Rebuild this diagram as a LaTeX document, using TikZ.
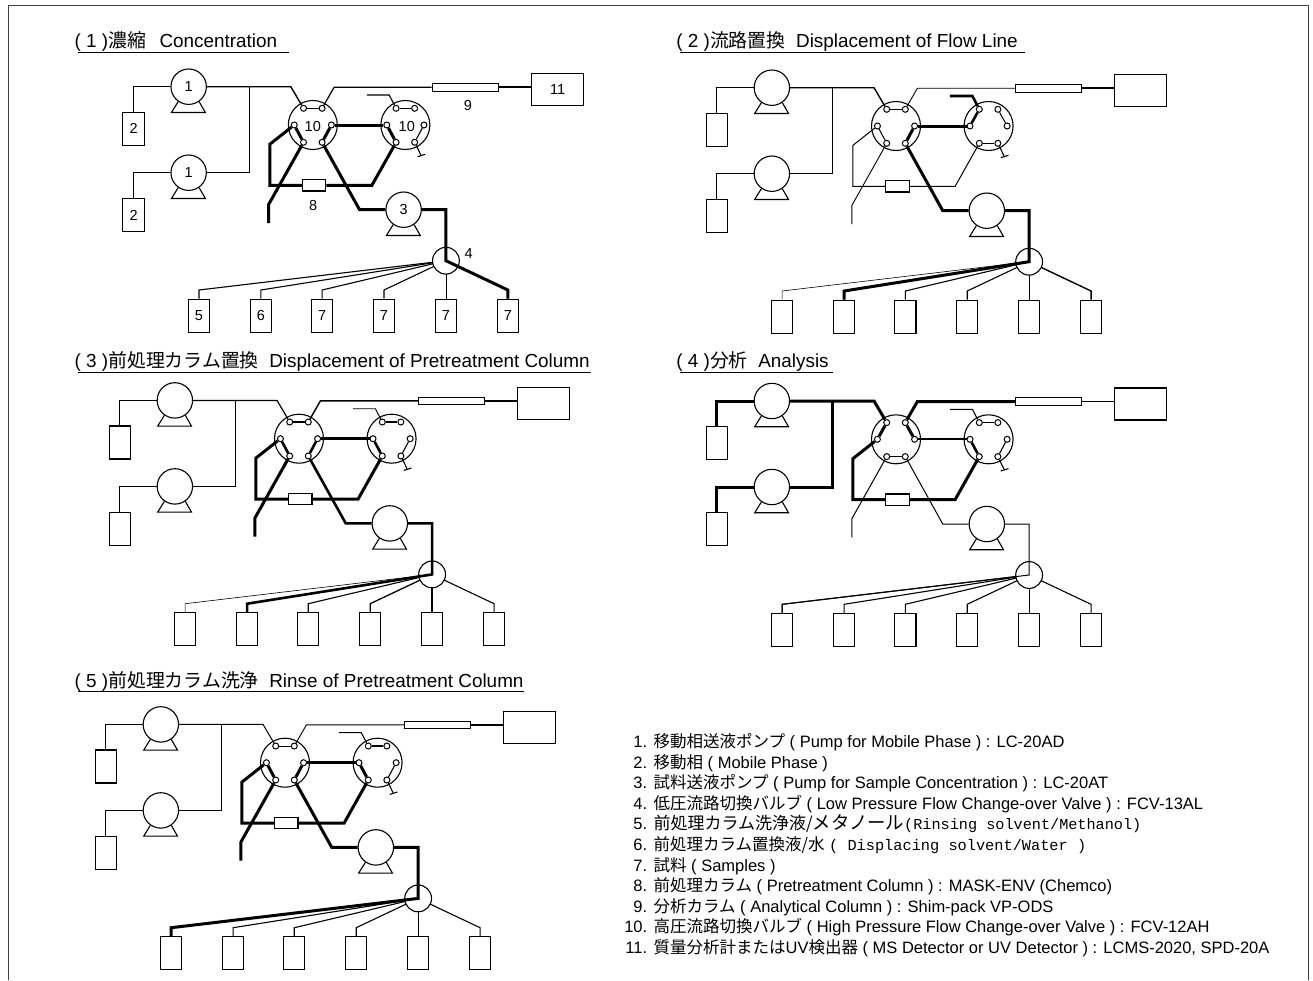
\documentclass[tikz,border=0pt]{standalone}
\usepackage{fontspec}
\setmainfont{Liberation Sans}
\newfontfamily\cjk{Noto Sans CJK JP}
\newfontfamily\cjkmono{Liberation Mono}
\tikzset{
  pump/.style={draw,circle,fill=white,line width=1.1pt,minimum size=35.4pt,inner sep=0pt},
  vlv/.style={draw,circle,line width=1.1pt,minimum size=49pt,inner sep=0pt},
  lowvlv/.style={draw,circle,line width=1.1pt,minimum size=26.8pt,inner sep=0pt},
  port/.style={draw,circle,fill=white,line width=1pt,minimum size=6pt,inner sep=0pt},
  bottle/.style={draw,fill=white,line width=1.1pt,minimum width=21.3pt,minimum height=33pt,inner sep=0pt},
  column/.style={draw,fill=white,line width=1.1pt,inner sep=0pt},
  num/.style={font=\fontsize{14.5}{16}\selectfont,inner sep=0pt},
  pumppath/.style={line width=1.4pt},
  outpath/.style={line width=1.2pt},
  detpath/.style={line width=2.2pt},
  wastepath/.style={line width=1.1pt},
  linkpath/.style={line width=3pt},
  colpath/.style={line width=3pt},
  drainpath/.style={line width=3pt},
  samplepath/.style={line width=3pt},
}
\newcommand{\flowunit}[7]{%
  \begin{scope}[shift={(#2)},x=1.032pt,#3]
    \node[vlv] (#1a) at (0,0) {};
    \node[vlv] (#1b) at (89.7,0) {};
    \foreach \p/\px/\py in {NW/-9/-16.7,NE/9/-16.7,W/-18/0,E/18/0,SW/-9/17.3,SE/9/17.3} {
      \node[port] (#1a\p) at (\px,\py) {};
      \node[port] (#1b\p) at (89.7+\px,\py) {};
    }
    \node[pump] (#1pumpa) at (-120.3,-38.3) {};
    \node[pump] (#1pumpb) at (-120.3,47.7) {};
    \node[pump] (#1pumpc) at (88,84.7) {};
    \foreach \q in {a,b,c} {
      \draw[line width=1.1pt] (#1pump\q.-125) -- ++(-6.5,10.8) -- ++(32.8,0) -- (#1pump\q.-55);
    }
    \node[bottle] (#1boxa) at (-173.7,3.8) {};
    \node[bottle] (#1boxb) at (-173.7,90) {};
    \node[column,minimum width=66.4pt,minimum height=7.7pt] (#1coldet) at (147.8,-37.8) {};
    \node[column,minimum width=23.4pt,minimum height=11.3pt] (#1colpre) at (1.3,60.3) {};
    \node[bottle,minimum width=52pt,minimum height=32pt] (#1det) at (237.2,-35.3) {};
    \coordinate (#1jun) at (-61.3,-38.3);
    \coordinate (#1inbend) at (-21.3,-38.3);
    \coordinate (#1outbend) at (20.7,-37.8);
    \coordinate (#1wasteend) at (52.3,-30);
    \coordinate (#1wastebend) at (74,-30);
    \coordinate (#1plug) at (104.7,30);
    \coordinate (#1plugl) at (101.5,31.7);
    \coordinate (#1plugr) at (109,29.3);
    \coordinate (#1lefta) at (-41.7,19.3);
    \coordinate (#1leftb) at (-41.7,60.3);
    \coordinate (#1rightb) at (57.3,60.3);
    \coordinate (#1drainbend) at (-42.7,79.3);
    \coordinate (#1drainend) at (-42.7,98);
    \coordinate (#1samplebend) at (45.3,84.7);
    % pumps to the first valve
    \draw[pumppath] (#1boxa.north) |- (#1pumpa);
    \draw[pumppath] (#1boxb.north) |- (#1pumpb);
    \draw[pumppath] (#1pumpb) -| (#1jun);
    \draw[pumppath] (#1pumpa) -- (#1inbend) -- (#1aNW);
    % detector side
    \draw[outpath] (#1aNE) -- (#1outbend) -- (#1coldet.west);
    \draw[detpath] (#1coldet.east) -- (#1det.west |- #1coldet.east);
    \draw[wastepath] (#1wasteend) -- (#1wastebend) -- (#1bNW);
    \draw[line width=1.1pt] (#1bSE) -- (#1plug);
    \draw[line width=1.1pt] (#1plugl) -- (#1plugr);
    \draw[linkpath] (#1aE) -- (#1bW);
    \draw[colpath] (#1aW) -- (#1lefta) -- (#1leftb) -- (#1colpre.west);
    \draw[colpath] (#1colpre.east) -- (#1rightb) -- (#1bSW);
    \draw[drainpath] (#1aSW) -- (#1drainbend) -- (#1drainend);
    \draw[samplepath] (#1aSE) -- (#1samplebend) -- (#1pumpc);
    % ports joined inside the valves
    \foreach \from/\to/\w in {#4} { \draw[line width=\w pt] (#1a\from) -- (#1a\to); }
    \foreach \from/\to/\w in {#5} { \draw[line width=\w pt] (#1b\from) -- (#1b\to); }
    % low pressure valve and bottles
    \foreach \i/\bx in {1/-110.3,2/-50.3,3/9,4/69,5/129,6/189} {
      \node[bottle] (#1s\i) at (\bx,190.7) {};
      \coordinate (#1sb\i) at (\bx,165);
    }
    \coordinate (#1lowc) at (129,135.7);
    \foreach \i/\w in {#6} {
      \draw[line width=\w pt] (#1lowc) -- (#1sb\i) -- (#1s\i.north);
    }
    \node[lowvlv,fill=white] (#1low) at (#1lowc) {};
    \draw[samplepath] (#1pumpc) -| (#1lowc) -- (#1sb#7) -- (#1s#7.north);
  \end{scope}
}
\newcommand{\heading}[4]{%
  \node[anchor=base west,inner sep=0pt,font=\fontsize{18.9}{20}\selectfont] (#1) at (#2) {#3};
  \draw[line width=0.9pt] (#1.base west) ++(3.5,4.6) -- ++(#4,0);
}
\begin{document}
\begin{tikzpicture}[x=1pt,y=-1pt]
  \useasboundingbox (0,0) rectangle (1313,980);
  \draw[line width=1.2pt,black!75] (8.5,980) -- (8.5,5.5) -- (1308.5,5.5) -- (1308.5,980);

  \heading{head1}{74.4,47.7}{( 1 ){\cjk 濃縮}\hspace{13.5pt}Concentration}{211.5}
  \heading{head2}{676.2,47.7}{( 2 ){\cjk 流路置換}\ \ Displacement of Flow Line}{345.3}
  \heading{head3}{74.4,367.4}{( 3 ){\cjk 前処理カラム置換}\ \ Displacement of Pretreatment Column}{513.5}
  \heading{head4}{676.2,367.4}{( 4 ){\cjk 分析}\ \ Analysis}{153.7}
  \heading{head5}{74.4,687.1}{( 5 ){\cjk 前処理カラム洗浄}\ \ Rinse of Pretreatment Column}{446.4}

  \flowunit{p}{312.8,125}{}
    {NW/NE/1.1,W/SW/3,E/SE/3}{NW/NE/1.1,W/SW/3,E/SE/1.1}
    {1/1.1,2/1.1,3/1.1,4/1.1,5/0.8,6/1.1}{6}
  \flowunit{q}{896,126}{outpath/.style={line width=0.9pt},wastepath/.style={line width=2.6pt},
      colpath/.style={line width=1pt},drainpath/.style={line width=0.9pt}}
    {NW/NE/1.1,W/SW/1,E/SE/3}{NW/W/2.6,NE/E/1,SW/SE/1}
    {1/0.6,2/1.1,3/1.1,4/1.1,5/1.1,6/1.4}{2}
  \flowunit{r}{299,438.7}{pumppath/.style={line width=1.2pt},outpath/.style={line width=1.4pt},wastepath/.style={line width=0.9pt},
      samplepath/.style={line width=2.6pt}}
    {NW/NE/1.1,W/SW/2.6,E/SE/2.6}{NW/NE/1.1,W/SW/2.6,E/SE/1.1}
    {1/0.6,2/1.1,3/1.1,4/1.3,5/1.8,6/1.1}{2}
  \flowunit{s}{896,439.3}{pumppath/.style={line width=3pt},outpath/.style={line width=3pt},detpath/.style={line width=1.3pt},
      linkpath/.style={line width=2.2pt},colpath/.style={line width=3pt},drainpath/.style={line width=1pt},samplepath/.style={line width=1pt}}
    {NW/W/3,NE/E/3,SW/SE/1}{NW/NE/1.1,W/SW/2.6,E/SE/1.1}
    {1/1.1,2/1.1,3/1.1,4/1.1,5/1.1,6/1.1}{1}
  \flowunit{t}{285,762.7}{pumppath/.style={line width=1pt},outpath/.style={line width=0.9pt},wastepath/.style={line width=1pt}}
    {NW/NE/1,W/SW/3,E/SE/3}{NW/NE/1.4,W/SW/3,E/SE/1.1}
    {1/1.1,2/1.1,3/1.1,4/1.1,5/1.1,6/1.1}{1}

  % numbers of the first unit
  \foreach \w/\t in {pumpa/1,pumpb/1,pumpc/3,boxa/2,boxb/2,s1/5,s2/6,s3/7,s4/7,s5/7,s6/7,det/11} {
    \node[num] at (p\w) {\t};
  }
  \node[num] (p10a) at (312.8,126.5) {10};
  \node[num] (p10b) at (406.8,127) {10};
  \node[num] (p4) at (468.7,254) {4};
  \node[num] (p8) at (313.2,205.7) {8};
  \node[num] (p9) at (468,105.7) {9};

  % list of parts
  \foreach \i/\t in {
    1/{{\cjk 移動相送液ポンプ} ( Pump for Mobile Phase ) : LC-20AD},
    2/{{\cjk 移動相} ( Mobile Phase )},
    3/{{\cjk 試料送液ポンプ} ( Pump for Sample Concentration ) : LC-20AT},
    4/{{\cjk 低圧流路切換バルブ} ( Low Pressure Flow Change-over Valve ) : FCV-13AL},
    5/{{\cjk\fontsize{17}{18}\selectfont 前処理カラム洗浄液/\fontsize{18.4}{18}\selectfont メタノール}{\cjkmono\fontsize{15.2}{18}\selectfont (Rinsing solvent/Methanol)}},
    6/{{\cjk 前処理カラム置換液/水} {\cjkmono\fontsize{15.3}{18}\selectfont ( Displacing solvent/Water )}},
    7/{{\cjk 試料} ( Samples )},
    8/{{\cjk 前処理カラム} ( Pretreatment Column ) : MASK-ENV (Chemco)},
    9/{{\cjk 分析カラム} ( Analytical Column ) : Shim-pack VP-ODS},
    10/{{\cjk 高圧流路切換バルブ} ( High Pressure Flow Change-over Valve ) : FCV-12AH},
    11/{{\cjk 質量分析計または}UV{\cjk 検出器} ( MS Detector or UV Detector ) : LCMS-2020, SPD-20A}} {
    \node[anchor=base west,inner sep=0pt,font=\fontsize{16.5}{18}\selectfont] (part\i) at (622,{747.5+20.6*(\i-1)}) {\makebox[25pt][r]{\i.}\hspace{6.4pt}\t};
  }
\end{tikzpicture}
\end{document}
